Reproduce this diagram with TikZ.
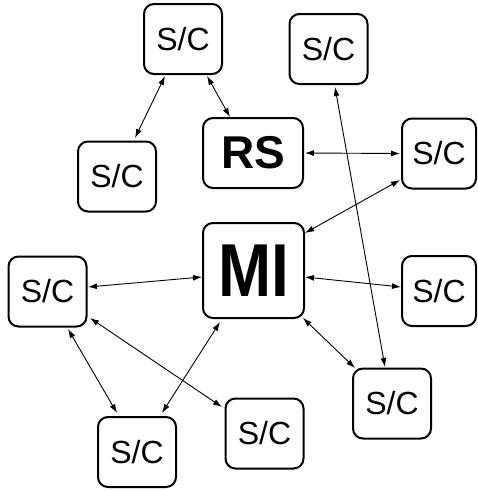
\documentclass[tikz,border=0pt]{standalone}
\usepackage{fontspec}
\setmainfont{Liberation Sans}
\usetikzlibrary{arrows.meta,calc}
\begin{document}
\begin{tikzpicture}[x=1pt,y=-1pt,
  box/.style={draw,line width=2pt,rounded corners=10pt,inner sep=0pt,minimum width=78pt,minimum height=70pt,font=\fontsize{32}{32}\selectfont},
  conn/.style={line width=0.9pt,{Latex[length=9pt,width=6pt]}-{Latex[length=9pt,width=6pt]}}]
\useasboundingbox (0,0) rectangle (478,491);
\node[box] (t)  at (183,39) {S/C};
\node[box] (tr) at (328.5,49) {S/C};
\node[box] (lm) at (117,176.5) {S/C};
\node[box,minimum width=100pt,font=\fontsize{46}{46}\selectfont\bfseries] (rs) at (253,153) {RS};
\node[box,minimum width=74pt] (r) at (439,153.5) {S/C};
\node[box,minimum width=101pt,minimum height=95pt,font=\fontsize{75}{75}\selectfont\bfseries] (mi) at (253.5,270.5) {\scalebox{0.85}[1]{MI}};
\node[box] (l) at (47.5,291.5) {S/C};
\node[box,minimum width=74pt] (r2) at (439,291) {S/C};
\node[box] (br) at (392,403.5) {S/C};
\node[box] (bm) at (264.5,433.5) {S/C};
\node[box] (bl) at (137,452) {S/C};
\draw[conn] ($(t)+(-18,37)$) -- ($(lm)+(18,-38.5)$);
\draw[conn] ($(t)+(24,37)$) -- ($(rs)+(-23,-36)$);
\draw[conn] ($(rs.east)+(1,0)$) -- ($(r.west)+(-1,0)$);
\draw[conn] ($(r)+(-39,26.5)$) -- ($(mi)+(51.5,-37.5)$);
\draw[conn] ($(tr)+(6.5,38)$) -- ($(br)+(-7,-36.5)$);
\draw[conn] ($(l)+(40.5,-4.5)$) -- ($(mi)+(-51.5,6.5)$);
\draw[conn] ($(mi)+(51.5,6.5)$) -- ($(r2)+(-38,-4)$);
\draw[conn] ($(mi)+(49.5,47.5)$) -- ($(br)+(-37,-35.5)$);
\draw[conn] ($(l)+(20.5,37.5)$) -- ($(bl)+(-20,-39)$);
\draw[conn] ($(l)+(42.5,26.5)$) -- ($(bm)+(-42.5,-26.5)$);
\draw[conn] ($(mi)+(-33.5,51.5)$) -- ($(bl)+(25,-39)$);
\end{tikzpicture}
\end{document}
